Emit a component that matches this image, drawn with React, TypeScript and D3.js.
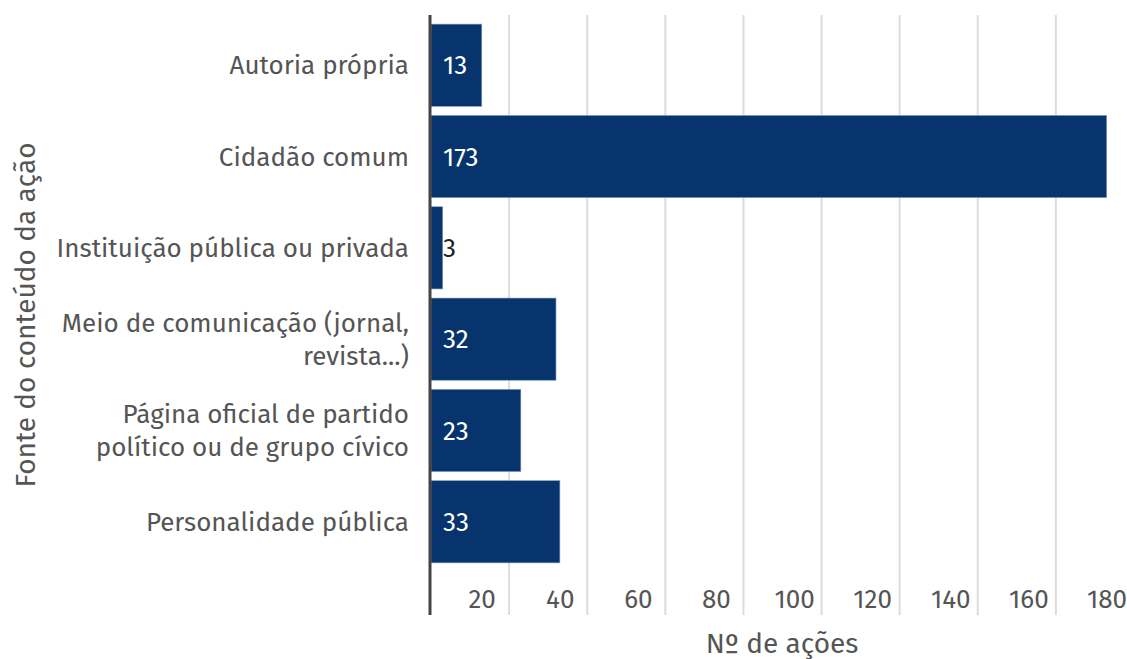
import { useEffect, useRef } from "react";
import * as d3 from "d3";

// chart data
const categories = [
  "Autoria própria",
  "Cidadão comum",
  "Instituição pública ou privada",
  "Meio de comunicação (jornal,|revista...)",
  "Página oficial de partido|político ou de grupo cívico",
  "Personalidade pública",
];
const values = [13, 173, 3, 32, 23, 33];
const xTicks = [20, 40, 60, 80, 100, 120, 140, 160, 180];

const width = 1127;
const height = 659;
const font = "'Fira Sans', 'Open Sans', sans-serif";
const barColor = "#07346d";
const textColor = "#555";

const drawChart = (node: SVGSVGElement) => {
  const svg = d3.select(node);
  svg.selectAll("*").remove();

  const x = d3.scaleLinear().domain([0, 180]).range([431, 1134]);
  const y = d3.scaleBand<number>()
    .domain(d3.range(categories.length))
    .range([15, 572])
    .padding(0.1);

  const top = 15;
  const bottom = 615;

  // gridlines
  svg.append("g")
    .selectAll("line")
    .data(xTicks)
    .join("line")
    .attr("x1", d => x(d))
    .attr("x2", d => x(d))
    .attr("y1", top)
    .attr("y2", bottom)
    .attr("stroke", "#dcdcdc")
    .attr("stroke-width", 2);

  // tick labels (drawn a bit left of the gridline)
  svg.append("g")
    .selectAll("text")
    .data(xTicks)
    .join("text")
    .attr("x", d => x(d) - 27)
    .attr("y", 608)
    .attr("text-anchor", "middle")
    .attr("font-family", font)
    .attr("font-size", 26)
    .attr("fill", textColor)
    .text(d => d);

  // bars
  svg.append("g")
    .selectAll("rect")
    .data(values)
    .join("rect")
    .attr("x", x(0))
    .attr("y", (_, i) => y(i)!)
    .attr("width", d => x(d) - x(0))
    .attr("height", y.bandwidth())
    .attr("fill", barColor)
    .attr("stroke", "#7f9cc4")
    .attr("stroke-width", 0.6);

  // value labels
  svg.append("g")
    .selectAll("text")
    .data(values)
    .join("text")
    .attr("x", x(0) + 12)
    .attr("y", (_, i) => y(i)! + y.bandwidth() / 2)
    .attr("dy", "0.35em")
    .attr("font-family", font)
    .attr("font-size", 26)
    .attr("fill", d => (d < 5 ? "#222" : "#fff"))
    .text(d => d);

  // axis line
  svg.append("line")
    .attr("x1", 430)
    .attr("x2", 430)
    .attr("y1", top)
    .attr("y2", bottom)
    .attr("stroke", "#444")
    .attr("stroke-width", 3);

  // category labels
  const cat = svg.append("g")
    .selectAll("text")
    .data(categories)
    .join("text")
    .attr("text-anchor", "end")
    .attr("font-family", font)
    .attr("font-size", 26)
    .attr("fill", textColor)
    .attr("transform", (_, i) => `translate(409,${y(i)! + y.bandwidth() / 2})`);

  cat.each(function (d) {
    const lines = d.split("|");
    const lh = 33;
    const start = -((lines.length - 1) * lh) / 2;
    d3.select(this)
      .selectAll("tspan")
      .data(lines)
      .join("tspan")
      .attr("x", 0)
      .attr("y", (_, j) => start + j * lh)
      .attr("dy", "0.35em")
      .text(l => l);
  });

  // axis titles
  svg.append("text")
    .attr("x", 782)
    .attr("y", 653)
    .attr("text-anchor", "middle")
    .attr("font-family", font)
    .attr("font-size", 28)
    .attr("fill", textColor)
    .text("Nº de ações");

  svg.append("text")
    .attr("transform", "translate(35,315) rotate(-90)")
    .attr("text-anchor", "middle")
    .attr("font-family", font)
    .attr("font-size", 28)
    .attr("fill", textColor)
    .text("Fonte do conteúdo da ação");
};

export default function App() {
  const ref = useRef<SVGSVGElement>(null);

  useEffect(() => {
    if (ref.current) drawChart(ref.current);
  }, []);

  return (
    <svg
      ref={ref}
      width={width}
      height={height}
      style={{ position: "absolute", left: 0, top: 0, background: "#fff" }}
    />
  );
}
